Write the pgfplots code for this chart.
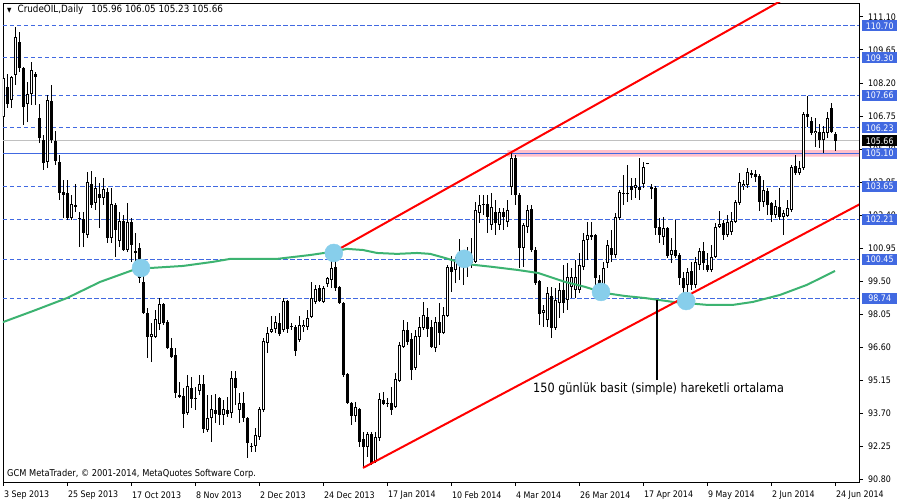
\documentclass[border=0pt]{standalone}
\usepackage{fontspec}
\setmainfont{DejaVu Sans}[FakeStretch=0.88]
\usepackage{pgfplots}
\usepackage{pgfplotstable}
\pgfplotsset{compat=1.18}
\definecolor{mtblue}{RGB}{65,105,225}
\definecolor{mtpink}{RGB}{255,192,203}
\definecolor{mtgreen}{RGB}{60,179,113}
\definecolor{mtsky}{RGB}{135,206,235}
\definecolor{mtgray}{RGB}{192,192,192}

\pgfplotstableread{
i o h l c
0 106.70 108.77 106.48 108.42
1 108.02 108.59 107.10 107.27
2 107.45 108.50 107.10 108.46
3 108.55 110.66 108.11 110.22
4 110.00 110.44 108.68 108.86
5 108.86 108.90 106.35 107.14
6 107.27 108.24 106.48 107.71
7 107.71 109.12 107.23 108.77
8 108.59 108.68 107.23 108.46
9 106.66 107.27 105.56 105.78
10 105.69 105.91 104.38 104.68
11 104.73 107.67 104.46 107.45
12 107.41 108.11 105.56 105.69
13 105.65 106.09 104.60 104.77
14 104.73 105.03 103.06 103.37
15 103.41 103.94 102.27 103.28
16 103.37 103.94 102.18 102.27
17 102.27 103.28 102.18 102.88
18 102.84 103.76 102.53 102.75
19 102.27 102.53 100.99 102.22
20 102.22 102.53 100.99 101.61
21 101.52 104.29 101.39 103.85
22 103.76 104.33 102.71 102.84
23 102.93 104.07 102.62 103.59
24 103.32 103.81 101.83 103.15
25 103.15 104.02 102.84 103.54
26 103.41 103.59 101.17 101.39
27 101.39 103.59 101.17 102.88
28 102.84 102.93 100.56 101.74
29 101.26 102.53 100.99 102.14
30 102.14 102.40 100.82 100.86
31 100.86 102.93 100.77 102.09
32 102.09 102.27 100.34 101.08
33 100.82 101.61 100.29 100.73
34 100.95 101.17 99.41 99.63
35 99.46 99.90 98.05 98.10
36 98.10 98.32 96.12 97.04
37 97.04 97.66 95.94 97.17
38 97.04 98.23 97.00 97.83
39 97.61 98.75 97.35 98.49
40 98.49 98.53 97.57 97.66
41 97.70 97.79 96.52 96.56
42 96.56 97.00 96.12 96.16
43 96.25 96.56 94.36 94.58
44 94.49 95.07 94.36 94.41
45 94.45 94.80 93.05 93.66
46 93.70 95.37 93.62 94.89
47 94.80 95.29 93.92 94.32
48 94.36 94.85 93.84 94.32
49 94.67 95.37 94.49 94.98
50 94.98 95.37 92.83 93.00
51 92.96 94.49 92.87 93.49
52 93.49 94.49 92.43 93.88
53 93.84 94.54 93.27 93.66
54 94.36 94.41 93.18 93.62
55 93.62 94.28 93.18 93.88
56 93.84 94.41 93.53 93.66
57 93.70 95.55 93.49 95.24
58 95.24 95.55 94.06 94.80
59 93.84 94.58 93.27 94.14
60 94.14 94.63 93.31 93.49
61 93.49 93.53 91.73 92.39
62 92.25 92.39 91.99 92.21
63 92.25 93.04 91.99 92.74
64 92.65 93.97 92.52 93.88
65 93.84 97.00 93.75 96.87
66 96.78 97.48 96.34 97.22
67 97.26 97.96 97.22 97.39
68 97.39 97.96 97.22 97.70
69 97.66 98.10 97.09 97.17
70 97.35 98.75 97.26 98.62
71 98.62 98.67 97.22 97.39
72 97.52 97.66 97.35 97.48
73 97.48 97.57 96.21 96.43
74 96.91 97.96 96.82 97.57
75 97.48 97.79 97.26 97.57
76 97.48 98.23 97.35 97.88
77 97.92 99.46 97.88 98.75
78 98.58 99.33 98.49 99.15
79 99.19 99.33 98.58 98.62
80 98.58 99.28 98.53 99.19
81 99.37 99.68 99.24 99.63
82 99.55 100.73 99.19 100.07
83 100.12 100.42 99.06 99.19
84 99.24 99.28 98.49 98.53
85 98.53 98.58 95.29 95.37
86 95.42 95.46 94.10 94.14
87 94.14 94.19 93.18 93.57
88 93.57 94.19 93.31 93.97
89 93.88 93.92 92.21 92.43
90 92.56 92.87 91.29 92.21
91 92.21 92.87 91.77 92.78
92 92.78 92.87 91.42 91.51
93 91.55 92.87 91.51 92.65
94 92.61 94.58 92.47 94.32
95 94.28 94.63 94.06 94.10
96 94.14 94.36 93.97 94.10
97 94.14 94.85 93.62 93.84
98 93.97 95.46 93.92 95.20
99 95.11 96.82 95.07 96.69
100 96.60 97.79 96.56 97.35
101 97.35 97.70 96.69 96.82
102 96.95 97.22 95.15 95.59
103 95.68 97.35 95.59 97.09
104 97.04 97.92 96.25 97.48
105 97.44 98.58 97.35 98.01
106 97.92 98.32 97.04 97.39
107 97.48 97.79 96.56 96.60
108 96.56 97.92 96.38 97.70
109 97.70 98.53 96.69 97.22
110 97.22 98.36 97.17 98.01
111 97.97 100.20 97.92 100.12
112 100.12 100.60 99.02 99.90
113 99.98 100.56 99.41 100.42
114 100.29 101.35 99.55 100.20
115 100.38 100.73 99.33 100.20
116 100.29 100.99 99.68 100.51
117 100.29 101.39 100.07 100.56
118 100.34 102.97 100.29 102.62
119 102.49 103.28 102.05 102.84
120 102.88 103.28 102.40 102.84
121 102.88 103.28 101.61 102.31
122 101.96 103.37 101.74 102.75
123 102.53 103.06 101.52 102.05
124 101.96 102.71 101.74 102.53
125 102.53 102.71 101.74 102.31
126 102.09 103.06 101.87 102.62
127 103.63 105.17 103.28 104.90
128 104.90 105.03 102.84 103.28
129 103.28 103.37 100.07 100.95
130 100.95 102.05 100.12 101.96
131 101.87 102.84 101.61 102.62
132 102.66 102.84 100.77 100.86
133 100.86 100.99 99.33 99.41
134 99.50 99.55 97.57 98.05
135 98.10 98.45 97.48 98.23
136 97.79 99.24 97.48 98.97
137 98.84 99.24 97.00 97.44
138 97.44 99.19 97.35 98.67
139 98.53 99.41 97.88 99.11
140 99.11 100.20 98.10 98.53
141 98.67 100.29 98.23 99.68
142 99.24 100.07 98.75 99.68
143 99.11 100.42 98.75 99.68
144 99.11 100.73 98.97 100.20
145 100.12 101.61 99.98 101.30
146 101.30 102.09 100.42 101.52
147 101.52 102.09 101.30 101.43
148 101.52 101.55 98.75 99.63
149 99.55 99.76 98.67 99.11
150 99.24 100.34 98.75 100.07
151 100.29 101.30 100.07 101.08
152 100.95 101.74 100.34 100.64
153 100.64 102.49 100.51 102.31
154 102.27 103.50 102.18 103.41
155 103.32 104.16 102.84 103.37
156 103.32 104.60 102.97 103.37
157 103.67 104.02 103.06 103.50
158 103.59 104.02 103.15 103.72
159 103.63 104.90 103.06 103.50
160 103.76 104.73 103.59 104.51
161 104.64 104.66 104.62 104.64
162 103.63 103.76 103.10 103.54
163 103.59 103.67 101.52 101.83
164 101.87 102.27 101.17 101.52
165 101.43 102.31 101.08 101.83
166 101.83 101.87 100.51 100.60
167 100.64 101.39 100.29 100.86
168 100.86 102.18 100.51 100.60
169 100.64 100.73 99.33 99.63
170 99.63 99.90 98.75 99.19
171 99.33 100.07 99.02 99.90
172 99.94 100.34 99.11 99.33
173 99.33 100.56 99.19 100.34
174 100.20 100.95 99.98 100.82
175 100.82 101.21 99.98 100.29
176 100.20 100.73 99.90 99.98
177 99.98 101.08 99.90 100.56
178 100.56 102.05 100.51 101.87
179 101.87 102.58 101.83 102.01
180 102.05 102.18 101.30 101.52
181 101.52 102.40 101.43 102.09
182 101.65 102.53 101.52 102.14
183 102.09 103.06 102.05 102.97
184 102.93 104.24 102.84 103.85
185 103.67 103.94 103.50 103.76
186 103.72 104.46 103.59 104.29
187 104.24 104.38 104.02 104.16
188 104.20 104.38 103.85 104.07
189 104.11 104.20 102.58 102.97
190 102.97 103.94 102.75 103.50
191 103.45 103.59 102.40 102.84
192 102.93 102.97 102.09 102.40
193 102.40 103.06 102.27 102.80
194 102.75 103.59 102.18 102.31
195 102.31 102.62 101.52 102.49
196 102.36 103.06 102.31 102.71
197 102.62 104.60 102.53 104.51
198 104.55 105.03 104.16 104.24
199 104.24 104.77 104.16 104.46
200 104.46 106.92 104.38 106.84
201 106.84 107.63 106.26 106.70
202 106.53 106.70 105.91 106.00
203 106.00 106.66 105.39 106.09
204 106.05 106.40 105.34 105.69
205 105.69 106.31 105.12 106.05
206 106.00 106.92 105.78 106.66
207 107.10 107.32 106.00 106.05
208 105.96 106.05 105.23 105.66
}\candles

\pgfplotstableread{
i sma
-0.5 97.68
0 97.70
7.4 98.18
15.9 98.75
24.2 99.46
32.4 99.98
36.7 100.07
44.9 100.16
52.4 100.34
56.7 100.47
68.4 100.47
76.7 100.64
81.7 100.77
85.9 100.91
89.9 100.86
93.4 100.73
98.4 100.69
103.4 100.73
106.7 100.69
110.4 100.51
115.4 100.25
122.2 100.12
128.7 99.98
133.7 99.85
140.4 99.46
145.4 99.24
150.4 98.97
155.4 98.84
160.4 98.75
167.4 98.58
175.9 98.45
182.4 98.45
187.4 98.58
194.2 98.89
200.9 99.33
207.9 99.94
}\smatab

\newcommand{\pricebox}[3]{\node[fill=#1, text=white, anchor=west, minimum width=35pt, minimum height=11pt, inner sep=0pt] at ([xshift=3pt]#2) {#3};}

\begin{document}
\begin{tikzpicture}[font=\fontsize{9}{10}\selectfont]
\fill[white] (-3pt,-18pt) rectangle (897pt,482pt);
\begin{axis}[
  at={(0,0)}, anchor=south west,
  scale only axis, width=856pt, height=479pt,
  xmin=-0.1, xmax=213.9, ymin=90.67, ymax=111.71,
  axis line style={black, line width=0.8pt},
  xtick={0,16,32,48,64,80,96,112,128,144,160,176,192,208},
  xticklabels={3 Sep 2013, 25 Sep 2013, 17 Oct 2013, 8 Nov 2013, 2 Dec 2013, 24 Dec 2013, 17 Jan 2014, 10 Feb 2014, 4 Mar 2014, 26 Mar 2014, 17 Apr 2014, 9 May 2014, 2 Jun 2014, 24 Jun 2014},
  ytick={90.80,92.25,93.70,95.15,96.60,98.05,99.50,100.95,102.40,103.85,105.30,106.75,108.20,109.65,111.10},
  yticklabels={90.80,92.25,93.70,95.15,96.60,98.05,99.50,100.95,102.40,103.85,105.30,106.75,108.20,109.65,111.10},
  xtick pos=left, ytick pos=right, xticklabel pos=left, yticklabel pos=right,
  tick align=outside, major tick length=4pt,
  tick style={black, line width=0.8pt},
  xticklabel style={anchor=west, inner sep=0pt, xshift=0.5pt, yshift=-9.5pt},
  yticklabel style={anchor=west, inner sep=0pt, xshift=5pt},
]
% support band
\addplot[fill=mtpink, draw=none, forget plot] coordinates {(126,104.96) (214,104.96) (214,105.25) (126,105.25) (126,104.96)};
% bid line
\addplot[mtgray, line width=1pt, forget plot] coordinates {(-0.1,105.66) (213.9,105.66)};
% horizontal levels
\addplot[mtblue, line width=1pt, dash pattern=on 4.5pt off 2.5pt] coordinates {(-0.1,110.70) (213.9,110.70)};
\addplot[mtblue, line width=1pt, dash pattern=on 4.5pt off 2.5pt] coordinates {(-0.1,109.30) (213.9,109.30)};
\addplot[mtblue, line width=1pt, dash pattern=on 4.5pt off 2.5pt] coordinates {(-0.1,107.66) (213.9,107.66)};
\addplot[mtblue, line width=1pt, dash pattern=on 4.5pt off 2.5pt] coordinates {(-0.1,106.23) (213.9,106.23)};
\addplot[mtblue, line width=1pt, dash pattern=on 4.5pt off 2.5pt] coordinates {(-0.1,103.65) (213.9,103.65)};
\addplot[mtblue, line width=1pt, dash pattern=on 4.5pt off 2.5pt] coordinates {(-0.1,102.21) (213.9,102.21)};
\addplot[mtblue, line width=1pt, dash pattern=on 4.5pt off 2.5pt] coordinates {(-0.1,100.45) (213.9,100.45)};
\addplot[mtblue, line width=1pt, dash pattern=on 4.5pt off 2.5pt] coordinates {(-0.1,98.74) (213.9,98.74)};
\addplot[mtblue, line width=1pt] coordinates {(-0.1,105.10) (213.9,105.10)};
% touch circles
\addplot[only marks, mark=*, mark size=9pt, color=mtsky, mark options={fill=mtsky, draw=mtsky}] coordinates {(34.4,100.07) (82.6,100.73) (115.2,100.47) (149.4,99.02) (170.7,98.62)};
% candles: wicks
\addplot[draw=none, forget plot, error bars/.cd, y dir=plus, y explicit, error mark=none, error bar style={draw=black, line width=1pt}]
  table[x=i, y=l, y error plus expr={\thisrow{h}-\thisrow{l}}] {\candles};
% candles: bodies
\addplot[draw=none, forget plot, error bars/.cd, y dir=plus, y explicit, error mark=none, error bar style={draw=black, line width=3pt}]
  table[x=i, y expr={min(\thisrow{o},\thisrow{c})}, y error plus expr={max(abs(\thisrow{c}-\thisrow{o}),0.044)}] {\candles};
% hollow inside of rising candles
\addplot[draw=none, forget plot, error bars/.cd, y dir=plus, y explicit, error mark=none, error bar style={draw=white, line width=1pt}]
  table[x=i, y expr={min(\thisrow{o},\thisrow{c})+0.044}, y error plus expr={(\thisrow{c}>\thisrow{o})*max(\thisrow{c}-\thisrow{o}-0.088,0)}] {\candles};
% 150-day SMA
\addplot[mtgreen, line width=2pt] table[x=i, y=sma] {\smatab};
% channel lines
\addplot[red, line width=2pt] coordinates {(82.15,100.73) (200,112.36)};
\addplot[red, line width=2pt] coordinates {(89.9,91.29) (214.5,102.91)};
% annotation pointer
\addplot[black, line width=2pt] coordinates {(163.4,98.67) (163.4,95.15)};
\node[anchor=west, inner sep=0pt, font=\fontsize{12.8}{14}\selectfont] at (axis cs:132.4,94.76) {150 günlük basit (simple) hareketli ortalama};
\node[anchor=west, inner sep=0pt, font=\fontsize{10}{11}\selectfont] at (rel axis cs:0.0047,0.9854) {{\fontsize{6.5}{6.5}\selectfont ▼}\hspace{6pt}CrudeOIL,Daily\hspace{8pt}105.96 106.05 105.23 105.66};
\node[anchor=west, inner sep=0pt, font=\fontsize{9.4}{10}\selectfont] at (rel axis cs:0.0047,0.0167) {GCM MetaTrader, © 2001-2014, MetaQuotes Software Corp.};
% anchors for price boxes
\coordinate (b1) at (axis cs:213.9,110.70);
\coordinate (b2) at (axis cs:213.9,109.30);
\coordinate (b3) at (axis cs:213.9,107.66);
\coordinate (b4) at (axis cs:213.9,106.23);
\coordinate (b5) at (axis cs:213.9,105.66);
\coordinate (b6) at (axis cs:213.9,105.10);
\coordinate (b7) at (axis cs:213.9,103.65);
\coordinate (b8) at (axis cs:213.9,102.21);
\coordinate (b9) at (axis cs:213.9,100.45);
\coordinate (b10) at (axis cs:213.9,98.74);
\end{axis}
\pricebox{mtblue}{b1}{110.70}
\pricebox{mtblue}{b2}{109.30}
\pricebox{mtblue}{b3}{107.66}
\pricebox{mtblue}{b4}{106.23}
\pricebox{black}{b5}{105.66}
\pricebox{mtblue}{b6}{105.10}
\pricebox{mtblue}{b7}{103.65}
\pricebox{mtblue}{b8}{102.21}
\pricebox{mtblue}{b9}{100.45}
\pricebox{mtblue}{b10}{98.74}
\pgfresetboundingbox
\path[use as bounding box] (-3pt,-18pt) rectangle (897pt,482pt);
\end{tikzpicture}
\end{document}
